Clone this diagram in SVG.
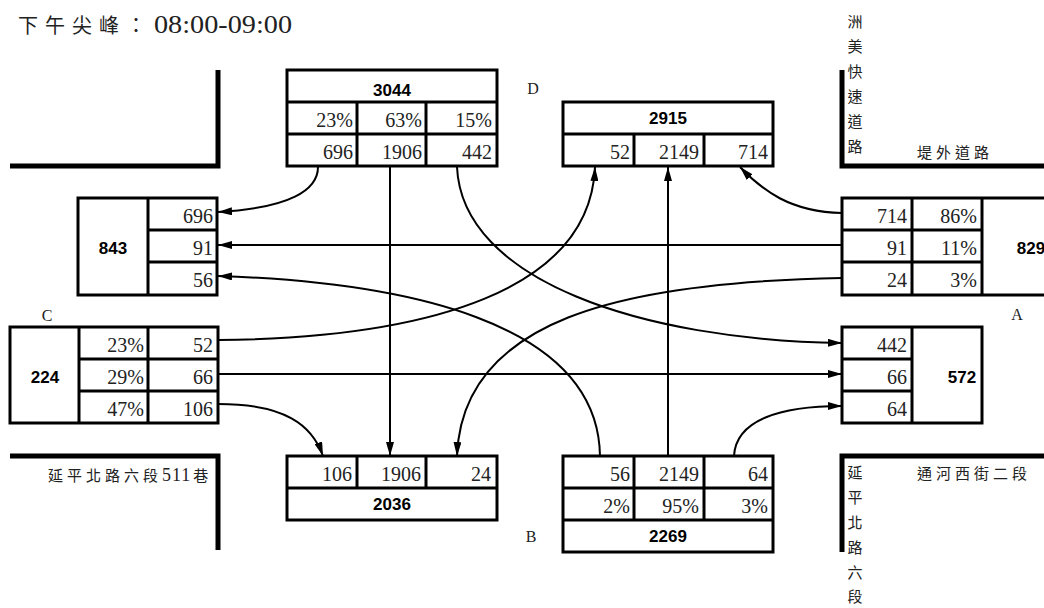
<svg xmlns="http://www.w3.org/2000/svg" width="1044" height="608" viewBox="0 0 1044 608">
<style>
.bx{fill:#fff;stroke:#000;stroke-width:3}
.dv{fill:none;stroke:#000;stroke-width:3}
.road{fill:none;stroke:#000;stroke-width:5}
.conn{fill:none;stroke:#000;stroke-width:2;marker-end:url(#ah)}
.n{font-family:"Liberation Serif",serif;font-size:20px;text-anchor:end;fill:#222}
.t{font-family:"Liberation Sans",Arial,sans-serif;font-weight:bold;font-size:17px;text-anchor:middle;fill:#000}
.lbl{font-family:"Liberation Serif",serif;font-size:16px;text-anchor:middle;fill:#222}
.cjk{font-family:"Noto Sans CJK TC","Noto Sans CJK SC",sans-serif;font-size:15px;fill:#222}
.ser{font-family:"Liberation Serif",serif}
</style>
<defs>
<marker id="ah" markerWidth="14" markerHeight="8" refX="14" refY="4" orient="auto" markerUnits="userSpaceOnUse"><path d="M0,0 L14,4 L0,8 Z" fill="#000"/></marker>
</defs>
<rect width="1044" height="608" fill="#fff"/>

<g id="title">
<text x="18" y="33" style="font-family:'Noto Sans CJK TC','Noto Sans CJK SC',sans-serif;font-size:20px;letter-spacing:7px" fill="#222">下午尖峰：</text>
<text x="154" y="33" style="font-family:'Liberation Serif',serif;font-size:25px" textLength="138" lengthAdjust="spacingAndGlyphs" fill="#222">08:00-09:00</text>
</g>

<g id="roads">
<path class="road" d="M10,166 H218 V70"/>
<path class="road" d="M842,70 V166 H1044"/>
<path class="road" d="M10,456 H218 V550"/>
<path class="road" d="M1044,456 H842 V552"/>
<text class="cjk" text-anchor="middle"><tspan x="855" y="27">洲</tspan><tspan x="855" dy="25">美</tspan><tspan x="855" dy="25">快</tspan><tspan x="855" dy="25">速</tspan><tspan x="855" dy="25">道</tspan><tspan x="855" dy="25">路</tspan></text>
<text class="cjk" x="917" y="158" letter-spacing="4">堤外道路</text>
<text class="cjk" x="917" y="479" letter-spacing="4">通河西街二段</text>
<text class="cjk" x="48" y="481"><tspan letter-spacing="4">延平北路六段</tspan><tspan class="ser" style="font-size:18px" letter-spacing="1">511</tspan><tspan dx="2">巷</tspan></text>
<text class="cjk" text-anchor="middle"><tspan x="855" y="478">延</tspan><tspan x="855" dy="25">平</tspan><tspan x="855" dy="25">北</tspan><tspan x="855" dy="25">路</tspan><tspan x="855" dy="25">六</tspan><tspan x="855" dy="24">段</tspan></text>
</g>

<g id="labels">
<text class="lbl" x="533" y="94">D</text>
<text class="lbl" x="47" y="321">C</text>
<text class="lbl" x="1017" y="320">A</text>
<text class="lbl" x="531" y="542">B</text>
</g>

<g id="connectors">
<path class="conn" d="M318,167 C318,190 290,208 218,212"/>
<path class="conn" d="M390,167 V456"/>
<path class="conn" d="M457,167 C462,280 640,340 842,343"/>
<path class="conn" d="M218,340 C430,338 590,290 595,167"/>
<path class="conn" d="M218,374 H842"/>
<path class="conn" d="M218,404 C285,404 312,425 323,456"/>
<path class="conn" d="M842,213 C790,212 762,190 740,167"/>
<path class="conn" d="M842,245 H218"/>
<path class="conn" d="M842,278 C620,282 462,320 457,456"/>
<path class="conn" d="M600,456 C598,320 400,282 218,276"/>
<path class="conn" d="M668,456 V167"/>
<path class="conn" d="M734,456 C736,420 780,406 842,406"/>
</g>

<g id="nodeD">
<rect class="bx" x="287" y="70" width="210" height="96"/>
<path class="dv" d="M287,102 H497 M287,134 H497 M357,102 V166 M426,102 V166"/>
<text class="t" x="392" y="96">3044</text>
<text class="n" x="353" y="127">23%</text><text class="n" x="422" y="127">63%</text><text class="n" x="492" y="127">15%</text>
<text class="n" x="353" y="159">696</text><text class="n" x="422" y="159">1906</text><text class="n" x="492" y="159">442</text>
</g>

<g id="nodeDout">
<rect class="bx" x="563" y="102" width="210" height="64"/>
<path class="dv" d="M563,134 H773 M634,134 V166 M704,134 V166"/>
<text class="t" x="668" y="124">2915</text>
<text class="n" x="630" y="159">52</text><text class="n" x="699" y="159">2149</text><text class="n" x="768" y="159">714</text>
</g>

<g id="nodeCout">
<rect class="bx" x="78" y="198" width="139" height="97"/>
<path class="dv" d="M148,198 V295 M148,230 H217 M148,262 H217"/>
<text class="t" x="113" y="254">843</text>
<text class="n" x="213" y="223">696</text><text class="n" x="213" y="255">91</text><text class="n" x="213" y="287">56</text>
</g>

<g id="nodeA">
<rect class="bx" x="842" y="198" width="238" height="97"/>
<path class="dv" d="M912,198 V295 M982,198 V295 M842,230 H982 M842,262 H982"/>
<text class="n" x="907" y="223">714</text><text class="n" x="977" y="223">86%</text>
<text class="n" x="907" y="255">91</text><text class="n" x="977" y="255">11%</text>
<text class="n" x="907" y="287">24</text><text class="n" x="977" y="287">3%</text>
<text class="t" x="1031" y="254">829</text>
</g>

<g id="nodeC">
<rect class="bx" x="10" y="327" width="208" height="96"/>
<path class="dv" d="M79,327 V423 M148,327 V423 M79,359 H218 M79,391 H218"/>
<text class="t" x="45" y="383">224</text>
<text class="n" x="144" y="352">23%</text><text class="n" x="213" y="352">52</text>
<text class="n" x="144" y="384">29%</text><text class="n" x="213" y="384">66</text>
<text class="n" x="144" y="416">47%</text><text class="n" x="213" y="416">106</text>
</g>

<g id="nodeAout">
<rect class="bx" x="842" y="327" width="140" height="96"/>
<path class="dv" d="M912,327 V423 M842,359 H912 M842,391 H912"/>
<text class="n" x="907" y="352">442</text><text class="n" x="907" y="384">66</text><text class="n" x="907" y="416">64</text>
<text class="t" x="962" y="383">572</text>
</g>

<g id="nodeBout">
<rect class="bx" x="287" y="456" width="210" height="64"/>
<path class="dv" d="M287,488 H497 M357,456 V488 M426,456 V488"/>
<text class="n" x="352" y="481">106</text><text class="n" x="421" y="481">1906</text><text class="n" x="491" y="481">24</text>
<text class="t" x="392" y="510">2036</text>
</g>

<g id="nodeB">
<rect class="bx" x="563" y="456" width="210" height="96"/>
<path class="dv" d="M563,488 H773 M563,520 H773 M634,456 V520 M704,456 V520"/>
<text class="n" x="630" y="481">56</text><text class="n" x="699" y="481">2149</text><text class="n" x="768" y="481">64</text>
<text class="n" x="630" y="513">2%</text><text class="n" x="699" y="513">95%</text><text class="n" x="768" y="513">3%</text>
<text class="t" x="668" y="542">2269</text>
</g>
</svg>
